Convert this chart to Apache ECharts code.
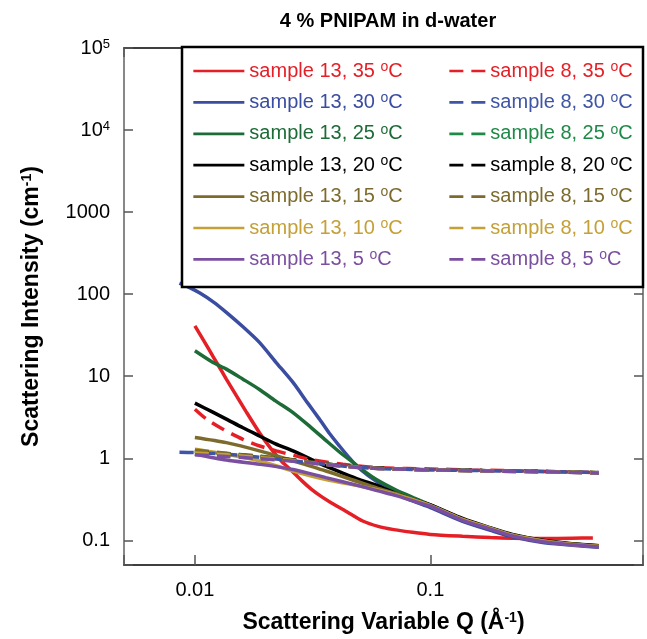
<!DOCTYPE html>
<html>
<head>
<meta charset="utf-8">
<script src="https://cdn.jsdelivr.net/npm/echarts@6/dist/echarts.min.js"></script>
<style>html,body{margin:0;padding:0;background:#fff;}#c{width:647px;height:639px;}</style>
</head>
<body>
<div id="c"></div>
<script>
// ---- data ([Q (1/Å), I (1/cm)] pairs) ----
const s13_35 = [[0.0100,41],[0.0110,26],[0.0120,17],[0.0130,11.5],[0.0136,9.2],[0.0150,5.8],[0.0165,3.7],[0.0188,2.05],[0.0210,1.32],[0.0235,0.90],[0.0257,0.71],[0.0285,0.53],[0.0312,0.42],[0.0340,0.35],[0.0373,0.295],[0.0440,0.225],[0.0516,0.172],[0.0600,0.148],[0.0700,0.135],[0.0840,0.125],[0.100,0.118],[0.137,0.112],[0.180,0.108],[0.223,0.106],[0.300,0.105],[0.400,0.106],[0.490,0.107]];
const s13_30 = [[0.0086,136],[0.0095,120],[0.0105,103],[0.0120,80],[0.0136,60],[0.0160,40],[0.0188,25.8],[0.0220,15],[0.0261,8.4],[0.0300,4.8],[0.0338,3.0],[0.0373,2.0],[0.0412,1.4],[0.0448,1.05],[0.0483,0.82],[0.0550,0.60],[0.0650,0.44],[0.0800,0.32],[0.100,0.25],[0.137,0.17],[0.180,0.132],[0.223,0.110],[0.300,0.094],[0.400,0.087],[0.520,0.082]];
const s13_25 = [[0.0100,20.4],[0.0118,15],[0.0136,12.2],[0.0160,9.2],[0.0188,6.9],[0.0220,5.0],[0.0261,3.6],[0.0310,2.4],[0.0360,1.65],[0.0410,1.2],[0.0469,0.89],[0.0516,0.72],[0.0590,0.55],[0.0715,0.41],[0.0850,0.33],[0.100,0.27],[0.137,0.18],[0.180,0.14],[0.223,0.116],[0.300,0.099],[0.400,0.090],[0.520,0.086]];
const s13_20 = [[0.0100,4.7],[0.0118,3.7],[0.0136,3.0],[0.0160,2.35],[0.0188,1.87],[0.0220,1.5],[0.0261,1.23],[0.0310,0.98],[0.0360,0.80],[0.0430,0.65],[0.0500,0.55],[0.0600,0.46],[0.0715,0.37],[0.0850,0.31],[0.100,0.27],[0.137,0.185],[0.180,0.142],[0.223,0.118],[0.300,0.100],[0.400,0.091],[0.520,0.086]];
const s13_15 = [[0.0100,1.79],[0.0136,1.55],[0.0188,1.23],[0.0261,0.93],[0.0360,0.70],[0.0500,0.51],[0.0600,0.43],[0.0715,0.37],[0.0850,0.31],[0.100,0.265],[0.137,0.18],[0.180,0.14],[0.223,0.116],[0.300,0.099],[0.400,0.090],[0.520,0.085]];
const s13_10 = [[0.0100,1.29],[0.0136,1.12],[0.0188,0.93],[0.0261,0.70],[0.0360,0.55],[0.0500,0.46],[0.0600,0.41],[0.0715,0.36],[0.0850,0.31],[0.100,0.265],[0.137,0.18],[0.180,0.14],[0.223,0.115],[0.300,0.098],[0.400,0.089],[0.520,0.084]];
const s13_5  = [[0.0100,1.12],[0.0136,0.95],[0.0188,0.845],[0.0261,0.73],[0.0360,0.58],[0.0500,0.46],[0.0600,0.40],[0.0715,0.35],[0.0850,0.30],[0.100,0.26],[0.137,0.175],[0.180,0.137],[0.223,0.113],[0.300,0.096],[0.400,0.088],[0.520,0.083]];
const s8_35 = [[0.0100,3.96],[0.0112,3.0],[0.0130,2.3],[0.0160,1.70],[0.0190,1.40],[0.0222,1.23],[0.0307,0.97],[0.0425,0.845],[0.0590,0.77],[0.0800,0.75],[0.100,0.74],[0.150,0.72],[0.200,0.71],[0.300,0.69],[0.400,0.68],[0.520,0.67]];
const s8_30 = [[0.0086,1.18],[0.0100,1.17],[0.0136,1.12],[0.0188,1.03],[0.0261,0.93],[0.0360,0.84],[0.0500,0.77],[0.0700,0.74],[0.100,0.72],[0.150,0.71],[0.200,0.70],[0.300,0.69],[0.400,0.68],[0.520,0.67]];
const s8_25 = [[0.0100,1.20],[0.0136,1.14],[0.0188,1.06],[0.0261,0.96],[0.0360,0.85],[0.0500,0.78],[0.0700,0.745],[0.100,0.725],[0.150,0.71],[0.200,0.70],[0.300,0.69],[0.400,0.68],[0.520,0.665]];
const s8_20 = [[0.0100,1.22],[0.0136,1.13],[0.0188,1.04],[0.0261,0.95],[0.0360,0.85],[0.0500,0.78],[0.0700,0.745],[0.100,0.72],[0.150,0.71],[0.200,0.70],[0.300,0.69],[0.400,0.675],[0.520,0.665]];
const s8_15 = [[0.0100,1.25],[0.0136,1.15],[0.0188,1.05],[0.0261,0.95],[0.0360,0.85],[0.0500,0.78],[0.0700,0.74],[0.100,0.72],[0.150,0.705],[0.200,0.695],[0.300,0.685],[0.400,0.675],[0.520,0.665]];
const s8_10 = [[0.0100,1.16],[0.0136,1.10],[0.0188,1.02],[0.0261,0.93],[0.0360,0.84],[0.0500,0.77],[0.0700,0.74],[0.100,0.72],[0.150,0.705],[0.200,0.695],[0.300,0.685],[0.400,0.675],[0.520,0.665]];
const s8_5  = [[0.0100,1.10],[0.0136,1.05],[0.0188,0.99],[0.0261,0.92],[0.0360,0.84],[0.0500,0.77],[0.0700,0.74],[0.100,0.72],[0.150,0.705],[0.200,0.695],[0.300,0.685],[0.400,0.672],[0.520,0.662]];

const solidNames = ['sample 13, 35 °C','sample 13, 30 °C','sample 13, 25 °C','sample 13, 20 °C','sample 13, 15 °C','sample 13, 10 °C','sample 13, 5 °C'];
const dashNames  = ['sample 8, 35 °C','sample 8, 30 °C','sample 8, 25 °C','sample 8, 20 °C','sample 8, 15 °C','sample 8, 10 °C','sample 8, 5 °C'];
const solidData = [s13_35, s13_30, s13_25, s13_20, s13_15, s13_10, s13_5];
const dashData  = [s8_35, s8_30, s8_25, s8_20, s8_15, s8_10, s8_5];
const solidColors = ['#e41f26','#3a4da0','#1d6b37','#000000','#7d6b2d','#c4a037','#7b4fa0'];
const dashColors  = ['#e41f26','#3f55a5','#1f8a48','#000000','#7d6b2d','#c4a037','#7b4fa0'];
const yTickText = {'5':'10{sup|5}','4':'10{sup|4}','3':'1000','2':'100','1':'10','0':'1','-1':'0.1'};
const xTickText = {'-2':'0.01','-1':'0.1'};

// ---- chart ----
const chart = echarts.init(document.getElementById('c'), null, {renderer:'canvas'});
const FONT = 'Liberation Sans, Arial, Helvetica, sans-serif';

function fmtLegend(name){
  return name.replace(' °C', ' {sup|o}C');
}
function tickKey(v){
  const l = Math.log10(v);
  const r = Math.round(l);
  return Math.abs(l - r) < 1e-6 ? String(r) : null;
}

const series = [];
solidData.forEach((d,i)=>{
  series.push({name: solidNames[i], type:'line', data:d, showSymbol:false, symbol:'none', smooth:0.25,
    xAxisIndex:0, yAxisIndex:0, z: 2,
    lineStyle:{color: solidColors[i], width:3.5}, itemStyle:{color: solidColors[i]}});
});
dashData.forEach((d,i)=>{
  series.push({name: dashNames[i], type:'line', data:d, showSymbol:false, symbol:'none', smooth:0.25,
    xAxisIndex:0, yAxisIndex:0, z: 2,
    lineStyle:{color: dashColors[i], width:3.5, type:[14,8]}, itemStyle:{color: dashColors[i]}});
});

const legendText = {fontFamily: FONT, fontSize: 20, lineHeight: 22,
  rich:{sup:{fontSize: 14, lineHeight: 14, verticalAlign:'top', fontFamily: FONT}}};

const option = {
  animation:false,
  backgroundColor:'#ffffff',
  title:{text:'4 % PNIPAM in d-water', left:383, top:6, textAlign:'center',
    textStyle:{fontFamily:FONT, fontWeight:'bold', fontSize:20, color:'#000'}},
  grid:{left:124, right:4, top:48, bottom:74, containLabel:false},
  graphic:[{type:'rect', z:3, shape:{x:182, y:47, width:461, height:240},
    style:{fill:'#fff', stroke:'#000', lineWidth:2.5}}],
  legend:[
    {data: solidNames.map((n,i)=>({name:n, textStyle:{color: solidColors[i]}})),
     orient:'vertical', left:192, top:60, itemWidth:51, itemHeight:14, itemGap:9.4, padding:0, z:5,
     selectedMode:false, formatter: fmtLegend, textStyle: legendText,
     itemStyle:{opacity:0}, lineStyle:{width:2.7}},
    {data: dashNames.map((n,i)=>({name:n, textStyle:{color: dashColors[i]}})),
     orient:'vertical', left:448, top:60, itemWidth:36, itemHeight:14, itemGap:9.4, padding:0, z:5,
     selectedMode:false, formatter: fmtLegend, textStyle: legendText,
     itemStyle:{opacity:0}, lineStyle:{width:2.7}}
  ],
  xAxis:[
    {type:'log', logBase:10, min:0.005, max:0.8, position:'bottom',
     name:'Scattering Variable Q (Å{sup|-1})', nameLocation:'middle', nameGap:46,
     nameTextStyle:{fontFamily:FONT, fontWeight:'bold', fontSize:23, color:'#000',
       rich:{sup:{fontFamily:FONT, fontWeight:'bold', fontSize:14, lineHeight:14, verticalAlign:'top'}}},
     axisLine:{show:true, lineStyle:{color:'#000', width:1.5}},
     axisTick:{show:true, inside:true, length:10, lineStyle:{color:'#555', width:1.5}},
     minorTick:{show:false}, splitLine:{show:false},
     axisLabel:{show:true, margin:15, fontFamily:FONT, fontSize:20, color:'#000',
       formatter:(v)=>{const k=tickKey(v); return (k!==null && xTickText[k]) ? xTickText[k] : '';}}},
    {type:'log', logBase:10, min:0.005, max:0.8, position:'top',
     axisLine:{show:true, lineStyle:{color:'#000', width:1.5}},
     axisTick:{show:true, inside:true, length:9, lineStyle:{color:'#555', width:1.5}},
     axisLabel:{show:false}, splitLine:{show:false}}
  ],
  yAxis:[
    {type:'log', logBase:10, min:0.05, max:100000, position:'left',
     name:'Scattering Intensity (cm{sup|-1})', nameLocation:'middle', nameGap:81,
     nameTextStyle:{fontFamily:FONT, fontWeight:'bold', fontSize:23, color:'#000',
       rich:{sup:{fontFamily:FONT, fontWeight:'bold', fontSize:14, lineHeight:14, verticalAlign:'top'}}},
     axisLine:{show:true, lineStyle:{color:'#888', width:2}},
     axisTick:{show:true, inside:true, length:9, lineStyle:{color:'#555', width:1.5}},
     minorTick:{show:false}, splitLine:{show:false},
     axisLabel:{show:true, margin:14, fontFamily:FONT, fontSize:20, color:'#000',
       rich:{sup:{fontFamily:FONT, fontSize:13, lineHeight:13, verticalAlign:'top'}},
       formatter:(v)=>{const k=tickKey(v); return (k!==null && yTickText[k]) ? yTickText[k] : '';}}},
    {type:'log', logBase:10, min:0.05, max:100000, position:'right',
     axisLine:{show:true, lineStyle:{color:'#888', width:2}},
     axisTick:{show:true, inside:true, length:9, lineStyle:{color:'#555', width:1.5}},
     axisLabel:{show:false}, splitLine:{show:false}}
  ],
  series: series
};
chart.setOption(option);
</script>
</body>
</html>
